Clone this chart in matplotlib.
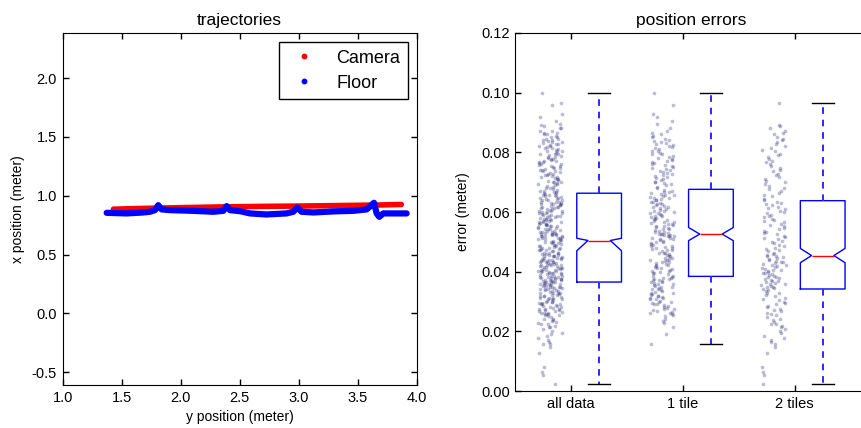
import numpy as np
import matplotlib
matplotlib.use("Agg")
import matplotlib.pyplot as plt
from matplotlib.lines import Line2D

plt.rcParams['font.family'] = ['Liberation Sans', 'DejaVu Sans']

# ---------------- data: trajectories (meters) ----------------
camera_y = [1.43, 1.70, 2.00, 2.39, 2.70, 2.95, 3.20, 3.50, 3.70, 3.87]
camera_x = [0.886, 0.893, 0.899, 0.906, 0.910, 0.912, 0.915, 0.919, 0.922, 0.926]

floor_y = [1.373, 1.542, 1.683, 1.740, 1.782, 1.810, 1.839, 1.909, 2.107, 2.276,
           2.361, 2.390, 2.418, 2.503, 2.587, 2.726, 2.898, 2.954, 2.988, 3.025,
           3.124, 3.293, 3.463, 3.576, 3.616, 3.638, 3.661, 3.683, 3.717, 3.802,
           3.915]
floor_x = [0.855, 0.850, 0.858, 0.864, 0.878, 0.920, 0.884, 0.878, 0.872, 0.864,
           0.872, 0.912, 0.878, 0.869, 0.850, 0.841, 0.850, 0.864, 0.900, 0.864,
           0.858, 0.867, 0.872, 0.884, 0.920, 0.940, 0.850, 0.821, 0.850, 0.850,
           0.850]

# ---------------- data: position errors (millimeters) ----------------
err_1tile_mm = [
    15.6, 19.2, 21.4, 22.7, 23.5, 24.3,
    25.1, 25.4, 25.9, 26.2, 26.3, 26.5, 26.8, 27.0, 27.4, 27.5, 27.9, 28.2, 28.6, 28.7,
    29.1, 29.3, 29.5, 29.8, 30.0, 30.2, 30.7, 30.9, 31.1, 31.3, 31.6, 31.8, 32.0, 32.3,
    32.5, 32.9, 33.0, 33.2, 33.4, 33.7, 34.1, 34.2, 34.6, 34.9, 35.0, 35.3, 35.5, 35.8,
    35.9, 36.2, 36.4, 36.6, 36.9, 37.1, 37.3, 37.6, 37.7, 37.9, 38.0, 38.2,
    38.5, 38.7, 39.1, 39.4, 39.4, 40.0, 40.2, 40.2, 40.7, 40.9, 41.1, 41.2, 41.6, 41.9,
    42.1, 42.1, 42.6, 42.9, 43.1, 43.2, 43.6, 43.8, 43.9, 44.3, 44.6, 44.7, 45.1, 45.2,
    45.5, 45.9, 46.1, 46.2, 46.4, 46.9, 47.1, 47.2, 47.6, 47.9, 48.0, 48.4, 48.6, 48.7,
    49.1, 49.2, 49.7, 49.9, 50.1, 50.2, 50.6, 50.9, 51.1, 51.3, 51.4, 51.8, 52.0, 52.1,
    52.3, 52.4, 52.5, 52.5,
    52.7, 52.9, 53.2, 53.4, 53.5, 53.9, 54.2, 54.3, 54.7, 54.9, 55.2, 55.4, 55.5, 55.9,
    56.1, 56.4, 56.6, 56.7, 57.1, 57.3, 57.6, 57.8, 58.0, 58.3, 58.6, 58.7, 59.1, 59.3,
    59.6, 59.8, 60.1, 60.4, 60.5, 60.8, 61.1, 61.2, 61.6, 61.8, 62.1, 62.3, 62.6, 62.7,
    63.0, 63.4, 63.5, 63.9, 64.1, 64.3, 64.6, 64.8, 65.1, 65.3, 65.6, 65.8, 66.0, 66.3,
    66.6, 66.8, 67.1, 67.4,
    68.2, 68.5, 68.9, 69.3, 69.6, 70.0, 70.2, 70.7, 71.0, 71.3, 71.7, 72.0, 72.4, 72.6,
    73.1, 73.4, 73.7, 74.1, 74.3, 74.8, 75.1, 75.4, 75.8, 76.2, 76.4, 76.9, 77.2, 77.5,
    77.9, 78.2, 78.6, 78.8, 79.3, 79.6, 79.9, 80.3, 80.6, 81.0, 81.3, 81.7, 82.0, 82.4,
    82.7, 83.1, 83.5, 83.8, 84.2, 84.6, 85.0, 85.5, 86.0, 86.6, 87.3, 88.1,
    89.4, 90.6, 91.8, 92.9, 95.8, 99.9,
]
err_2tiles_mm = [
    2.3, 5.4, 6.5, 8.1, 12.6, 14.8, 15.9, 16.4, 17.2, 17.7, 18.5, 19.3,
    20.1, 20.8, 21.3, 21.9, 22.4, 22.6, 23.2, 23.9, 24.3, 24.8, 25.4, 25.9, 26.1, 26.7,
    27.2, 27.6, 28.3, 28.5, 29.0, 29.6, 30.0, 30.4, 30.9, 31.3, 31.8, 32.2, 32.7, 33.0,
    33.4, 33.8, 34.1,
    34.5, 34.7, 35.0, 35.2, 35.5, 35.8, 36.0, 36.3, 36.5, 36.8, 37.0, 37.3, 37.5, 37.8,
    38.1, 38.3, 38.6, 38.8, 39.1, 39.4, 39.6, 39.9, 40.2, 40.4, 40.7, 41.0, 41.2, 41.5,
    41.8, 42.1, 42.3, 42.6, 42.9, 43.2, 43.4, 43.7, 44.0, 44.3, 44.6, 44.8, 45.1, 45.3,
    45.5, 45.9, 46.4, 46.8, 47.3, 47.7, 48.1, 48.6, 49.0, 49.5, 49.9, 50.3, 50.8, 51.2,
    51.6, 52.1, 52.5, 53.0, 53.4, 53.8, 54.3, 54.7, 55.2, 55.6, 56.0, 56.5, 56.9, 57.4,
    57.8, 58.2, 58.7, 59.1, 59.6, 60.0, 60.4, 60.9, 61.3, 61.8, 62.2, 62.6, 63.1, 63.5,
    63.9, 64.5, 65.2, 65.8, 66.3, 66.9, 67.6, 68.2, 68.7, 69.4, 70.0, 70.5, 71.2, 71.8,
    72.3, 72.9, 73.6, 74.2, 74.7, 75.4, 76.0, 76.6, 77.2, 77.8, 78.5, 79.1, 79.6, 80.3,
    80.9, 81.5, 82.1, 82.7, 83.4, 84.0, 84.6, 85.3, 86.0, 86.6, 87.3, 88.1, 88.7, 89.3,
    96.7,
]
group_labels = ['all data', '1 tile', '2 tiles']
# notch (median confidence interval), mm
notch_lo_mm = [47.0, 50.4, 43.0]
notch_hi_mm = [51.2, 54.8, 47.8]

err_1tile = np.array(err_1tile_mm) / 1000.0
err_2tiles = np.array(err_2tiles_mm) / 1000.0
err_all = np.concatenate([err_1tile, err_2tiles])
groups = [err_all, err_1tile, err_2tiles]


def jitter(n, seed):
    # deterministic hash jitter in [0, 1) for horizontal spreading only
    i = np.arange(n) + seed
    h = np.sin(i * 12.9898 + 78.233) * 43758.5453
    return h - np.floor(h)


# ---------------- figure ----------------
fig = plt.figure(figsize=(8.62, 4.28), dpi=100)

tick_kw = dict(direction='in', length=4, width=1, top=True, right=True,
               labelsize=10.5, pad=4)

# left: trajectories
ax1 = fig.add_axes([0.0727, 0.0998, 0.4107, 0.8224])
ax1.plot(camera_y, camera_x, color='r', lw=4, solid_capstyle='round',
         solid_joinstyle='round', zorder=2)
ax1.plot(floor_y, floor_x, color='b', lw=4.5, solid_capstyle='round',
         solid_joinstyle='round', zorder=3)
ax1.set_xlim(1.0, 4.0)
ax1.set_ylim(-0.61, 2.38)
ax1.set_xticks(np.arange(1.0, 4.01, 0.5))
ax1.set_yticks(np.arange(-0.5, 2.01, 0.5))
ax1.xaxis.set_major_formatter(matplotlib.ticker.FormatStrFormatter('%.1f'))
ax1.yaxis.set_major_formatter(matplotlib.ticker.FormatStrFormatter('%.1f'))
ax1.tick_params(**tick_kw)
ax1.set_xlabel('y position (meter)', fontsize=10)
ax1.set_ylabel('x position (meter)', fontsize=10, labelpad=5)
ax1.set_title('trajectories', fontsize=12.5)
handles = [Line2D([], [], ls='none', marker='o', ms=3.2, color='r', mec='r'),
           Line2D([], [], ls='none', marker='o', ms=3.2, color='b', mec='b')]
leg = ax1.legend(handles, ['Camera', 'Floor'], loc='upper right', fontsize=13,
                 numpoints=1, fancybox=False, framealpha=1, edgecolor='k',
                 handlelength=2.0, handletextpad=0.8, borderpad=0.4,
                 labelspacing=0.45, borderaxespad=0.5)
leg.get_frame().set_linewidth(1.0)

# right: position errors
ax2 = fig.add_axes([0.5978, 0.0864, 0.409, 0.8365])
for k, g in enumerate(groups):
    xs = (k + 1) - 0.19 + (jitter(len(g), 101 * k + 7) - 0.5) * 0.22
    ax2.scatter(xs, g, s=7, color='#232373', alpha=0.3, linewidths=0, zorder=1)

conf = [[lo / 1000.0, hi / 1000.0] for lo, hi in zip(notch_lo_mm, notch_hi_mm)]
ax2.boxplot(groups, positions=[1.25, 2.25, 3.25], widths=0.4, notch=True,
            conf_intervals=conf, sym='', manage_ticks=False,
            boxprops=dict(color='b', lw=1.0),
            medianprops=dict(color='r', lw=1.0),
            whiskerprops=dict(color='#2a2aff', lw=1.4, ls=(0, (3.4, 3.0))),
            capprops=dict(color='k', lw=1.0))
ax2.set_xlim(0.5, 3.654)
ax2.set_ylim(0.0, 0.12)
ax2.set_yticks(np.arange(0.0, 0.1201, 0.02))
ax2.yaxis.set_major_formatter(matplotlib.ticker.FormatStrFormatter('%.2f'))
ax2.set_xticks([1, 2, 3])
ax2.set_xticklabels(group_labels)
ax2.tick_params(**tick_kw)
ax2.set_ylabel('error (meter)', fontsize=10, labelpad=8)
ax2.set_title('position errors', fontsize=12.5)

fig.savefig('out.png', dpi=100)
